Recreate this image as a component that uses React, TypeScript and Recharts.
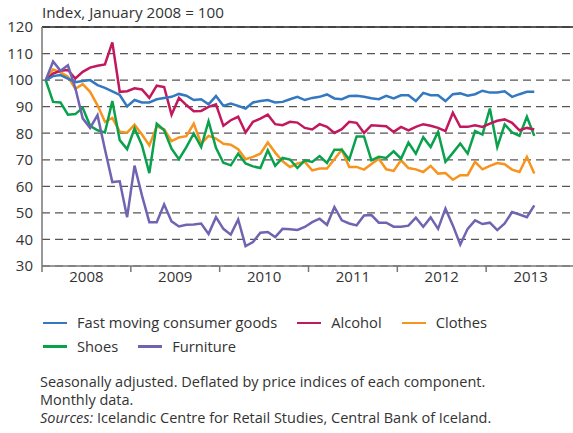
import React from 'react';
import { LineChart, Line, XAxis, YAxis, CartesianGrid, ReferenceLine, Legend } from 'recharts';

// Monthly index values, Jan 2008 - Jul 2013 (January 2008 = 100)
const fmcg = [
  100, 101.5, 101.9, 100.6, 99.2, 99.7, 100, 98.1, 97.1, 95.8, 94.4, 90.1,
  92.5, 91.6, 91.6, 92.8, 93.3, 93.7, 94.8, 94.1, 92.5, 92.8, 90.9, 94,
  90.3, 91.2, 90.3, 89.3, 91.6, 92.1, 92.5, 91.6, 91.8, 92.8, 93.7, 92.5,
  93.3, 93.7, 94.6, 93.1, 92.8, 94, 94.1, 93.7, 93.2, 92.8, 94.1, 93.1,
  94.3, 94.3, 92.1, 95.2, 94.3, 94.3, 92.1, 94.7, 95, 94.1, 94.7, 96,
  95.3, 95.3, 95.8, 93.7, 94.7, 95.6, 95.6,
];
const alcohol = [
  100, 102.5, 103.5, 103.8, 100.6, 103.1, 104.7, 105.4, 105.9, 114.2, 95.6, 95.8,
  96.9, 96.5, 93.3, 97.9, 97.4, 87, 93.3, 90.6, 88.3, 88.4, 89.9, 90.9,
  82.8, 84.9, 86.2, 80.3, 84.3, 85.5, 87, 83.4, 83, 84.3, 84, 82,
  81.4, 83.4, 82.4, 80.1, 81.5, 84.3, 83.9, 80.1, 83, 82.8, 82.6, 80.5,
  82.4, 81.1, 82.4, 83.4, 82.8, 82, 80.8, 87.7, 82.4, 82.4, 83, 82.4,
  83.6, 84.7, 85.2, 83.9, 81.1, 82, 81.4,
];
const clothes = [
  100, 104, 102.9, 101.3, 96.7, 98.5, 95.6, 90.5, 84.3, 85.8, 80.6, 80.2,
  83.2, 79.5, 75.4, 82.6, 81.5, 77, 78.4, 78.9, 83.6, 76.1, 79, 78,
  76, 75.7, 74, 70.2, 71.1, 72.3, 76.5, 72.7, 69.4, 67.3, 68.6, 69.2,
  66, 66.7, 66.7, 70.2, 73.8, 67.3, 67.3, 66.3, 68.4, 70.4, 66.4, 65.8,
  69.8, 66.9, 66.4, 65.4, 67.7, 64.8, 65, 62.5, 64.2, 64.2, 69.2, 66.4,
  67.7, 68.8, 68.3, 66.3, 65.4, 71.1, 64.8,
];
const shoes = [
  100, 91.8, 91.6, 87, 87.2, 89.6, 82.8, 81.1, 80.3, 92.1, 77.4, 74,
  81.8, 75.5, 65, 83.6, 81.1, 74.2, 70.2, 74.8, 79.9, 74.8, 84.5, 74.5,
  68.9, 67.9, 72.3, 68.6, 67.5, 66.9, 73.6, 67.7, 70.7, 70.1, 66.9, 69.8,
  69.2, 71.4, 68.8, 73.8, 73.8, 70.1, 78.8, 78.8, 69.8, 71.1, 70.7, 73.2,
  70.4, 76.5, 72.3, 78.5, 74.8, 80.5, 69.2, 72.6, 76.1, 72.3, 80.8, 79.5,
  89.3, 74.8, 83.3, 80.3, 79, 86.2, 79,
];
const furniture = [
  100, 107, 103.5, 105.6, 97, 85.6, 82, 86.8, 74, 61.6, 61.9, 48.4,
  67.8, 56.6, 46.5, 46.5, 53.2, 46.8, 44.9, 45.5, 45.6, 46, 42.1, 48.4,
  44, 41.8, 47.5, 37.5, 39, 42.5, 42.8, 40.9, 44, 43.8, 43.6, 44.7,
  46.5, 47.8, 45.5, 52.2, 47.2, 46, 45.3, 49, 49.2, 46.3, 46.3, 44.8,
  44.8, 45.2, 48.2, 44.8, 48.3, 44, 51.6, 45.3, 38.1, 44, 47.2, 45.8,
  46.3, 43.5, 46, 50.3, 49.4, 48.4, 52.8,
];

const years = ['2008', '2009', '2010', '2011', '2012', '2013'];
const yearTicks = [0, 12, 24, 36, 48, 60];
const yTicks = [30, 40, 50, 60, 70, 80, 90, 100, 110, 120];

const series = [
  { key: 'fmcg', name: 'Fast moving consumer goods', color: '#3378c1' },
  { key: 'alcohol', name: 'Alcohol', color: '#c1185e' },
  { key: 'clothes', name: 'Clothes', color: '#f7941d' },
  { key: 'shoes', name: 'Shoes', color: '#0aa14d' },
  { key: 'furniture', name: 'Furniture', color: '#6f64b2' },
];

// month index at the middle of each month
const data = fmcg.map((v, i) => ({
  t: i + 0.5,
  fmcg: v,
  alcohol: alcohol[i],
  clothes: clothes[i],
  shoes: shoes[i],
  furniture: furniture[i],
}));

const CHART_W = 575;
const Y_AXIS_W = 42;
const HALF_YEAR = ((CHART_W - Y_AXIS_W) / 72) * 6;
const FONT = '"Open Sans", sans-serif';

// year label sits in the middle of the year, tick mark on the boundary
const YearTick = (props: any) => {
  const { x, y, payload } = props;
  const idx = yearTicks.indexOf(payload.value);
  if (idx < 0) return null;
  return (
    <text x={x + HALF_YEAR} y={y} dy={8} textAnchor="middle" fill="#333" fontSize={15} fontFamily={FONT}>
      {years[idx]}
    </text>
  );
};

const LegendItem = ({ name, color }: { name: string; color: string }) => (
  <span style={{ display: 'inline-flex', alignItems: 'center', marginRight: 20 }}>
    <span style={{ display: 'inline-block', width: 24, height: 2.5, background: color, marginRight: 10 }} />
    <span>{name}</span>
  </span>
);

const LegendRows = () => (
  <div style={{ paddingLeft: 43, fontSize: 14.7, lineHeight: '19.5px', color: '#333', fontFamily: FONT }}>
    <div>
      {series.slice(0, 3).map((s) => (
        <LegendItem key={s.key} name={s.name} color={s.color} />
      ))}
    </div>
    <div>
      {series.slice(3).map((s) => (
        <LegendItem key={s.key} name={s.name} color={s.color} />
      ))}
    </div>
  </div>
);

const drawOrder = ['clothes', 'shoes', 'alcohol', 'fmcg', 'furniture'];

export default function App() {
  return (
    <div
      style={{
        position: 'absolute',
        left: 0,
        top: 0,
        width: 573,
        height: 433,
        overflow: 'hidden',
        background: '#fff',
        fontFamily: FONT,
        color: '#333',
      }}
    >
      <div style={{ position: 'absolute', left: 42, top: 2, fontSize: 15.2 }}>Index, January 2008 = 100</div>
      <LineChart width={CHART_W} height={300} data={data} margin={{ top: 27, right: 0, bottom: 0, left: 0 }}>
        <CartesianGrid vertical={false} stroke="#555" strokeDasharray="8 5" strokeWidth={1.2} />
        <XAxis
          dataKey="t"
          type="number"
          domain={[0, 72]}
          ticks={yearTicks}
          interval={0}
          tick={<YearTick />}
          tickSize={6}
          tickMargin={2}
          height={34}
          stroke="#777"
          strokeWidth={1.5}
        />
        <YAxis
          domain={[30, 120]}
          ticks={yTicks}
          interval={0}
          width={Y_AXIS_W}
          tickSize={0}
          tickMargin={9}
          stroke="#777"
          strokeWidth={1.5}
          tick={{ fill: '#333', fontSize: 15, fontFamily: FONT }}
        />
        <ReferenceLine y={120} stroke="#222" strokeWidth={1.5} />
        {drawOrder.map((k) => {
          const s = series.find((x) => x.key === k)!;
          return (
            <Line
              key={s.key}
              type="linear"
              dataKey={s.key}
              name={s.name}
              stroke={s.color}
              strokeWidth={2.5}
              dot={false}
              activeDot={false}
              isAnimationActive={false}
            />
          );
        })}
        <Legend
          verticalAlign="bottom"
          align="left"
          wrapperStyle={{ position: 'absolute', left: 0, top: 309, width: CHART_W, height: 0, overflow: 'visible' }}
          content={() => <LegendRows />}
        />
      </LineChart>
      <div style={{ position: 'absolute', left: 40, top: 373, fontSize: 14.5, lineHeight: '18px' }}>
        <div>Seasonally adjusted. Deflated by price indices of each component.</div>
        <div>Monthly data.</div>
        <div>
          <i>Sources:</i> Icelandic Centre for Retail Studies, Central Bank of Iceland.
        </div>
      </div>
    </div>
  );
}
